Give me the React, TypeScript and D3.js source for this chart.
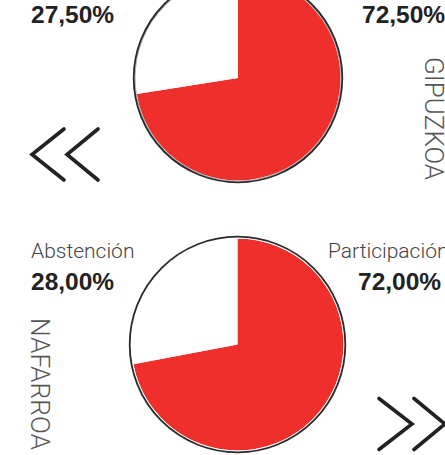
import React from "react";
import * as d3 from "d3";

const regions = ["GIPUZKOA", "NAFARROA"];
const participation = [72.5, 72.0];
const abstention = [27.5, 28.0];
const sliceLabels = ["Participación", "Abstención"];

const W = 445;
const H = 455;

const locale = d3.formatLocale({ decimal: ",", thousands: ".", grouping: [3], currency: ["", "€"] });
const fmt = (v: number) => locale.format(".2f")(v) + "%";

const layouts = [
  { cx: 238, cy: 78, r: 104, labelSide: "right" as const, chevron: "left" as const, showLabels: false },
  { cx: 237.5, cy: 344.5, r: 107.5, labelSide: "left" as const, chevron: "right" as const, showLabels: true },
];

const pieGen = d3
  .pie<number>()
  .sort(null)
  .value((d) => d)
  .startAngle(0)
  .endAngle(2 * Math.PI);

const sliceColors = ["#ee2f2c", "#ffffff"];

function Chevron({ x0, x1, cy, h }: { x0: number; x1: number; cy: number; h: number }) {
  const line = d3.line<[number, number]>();
  const pts: [number, number][] = [
    [x1, cy - h],
    [x0, cy],
    [x1, cy + h],
  ];
  return (
    <path
      d={line(pts) || ""}
      fill="none"
      stroke="#222"
      strokeWidth={3.6}
      strokeLinecap="round"
      strokeLinejoin="miter"
    />
  );
}

export default function App() {
  return (
    <svg
      width={W}
      height={H}
      viewBox={`0 0 ${W} ${H}`}
      style={{ position: "absolute", left: 0, top: 0, display: "block", background: "#fff" }}
    >
      <rect x={0} y={0} width={W} height={H} fill="#fff" />
      {regions.map((name, i) => {
        const L = layouts[i];
        const arcs = pieGen([participation[i], abstention[i]]);
        const arcGen = d3.arc<d3.PieArcDatum<number>>().innerRadius(0).outerRadius(L.r - 1.5);
        const pctY = L.cy - 55;
        const lblY = pctY - 32;
        return (
          <g key={name}>
            <g transform={`translate(${L.cx},${L.cy})`}>
              {arcs.map((a, j) => (
                <path key={j} d={arcGen(a) || ""} fill={sliceColors[j]} />
              ))}
              <circle r={L.r - 1} fill="none" stroke={i === 0 ? "#b5b5b5" : "#ffffff"} strokeWidth={1.2} />
              <circle r={L.r + 0.3} fill="none" stroke="#2a2a2a" strokeWidth={1.8} />
            </g>
            {L.showLabels && (
              <text x={31} y={lblY} fontFamily="Roboto" fontWeight={300} fontSize={21} fill="#444">
                {sliceLabels[1]}
              </text>
            )}
            <text x={31} y={pctY} fontFamily="Liberation Sans" fontWeight={700} fontSize={24.5} fill="#222">
              {fmt(abstention[i])}
            </text>
            {L.showLabels && (
              <text x={328} y={lblY} fontFamily="Roboto" fontWeight={300} fontSize={21} fill="#444">
                {sliceLabels[0]}
              </text>
            )}
            <text x={i === 0 ? 362 : 358} y={pctY} fontFamily="Liberation Sans" fontWeight={700} fontSize={24.5} fill="#222">
              {fmt(participation[i])}
            </text>
            {L.labelSide === "right" ? (
              <text
                transform={`translate(425,57) rotate(90)`}
                fontFamily="Roboto"
                fontWeight={300}
                fontSize={25.5}
                fill="#555"
                textLength={123}
                lengthAdjust="spacingAndGlyphs"
              >
                {name}
              </text>
            ) : (
              <text
                transform={`translate(31,318) rotate(90)`}
                fontFamily="Roboto"
                fontWeight={300}
                fontSize={26}
                fill="#555"
                textLength={132}
                lengthAdjust="spacingAndGlyphs"
              >
                {name}
              </text>
            )}
            {L.chevron === "left" ? (
              <g>
                <Chevron x0={32} x1={64} cy={154.5} h={25.5} />
                <Chevron x0={67} x1={98} cy={154.5} h={25.5} />
              </g>
            ) : (
              <g>
                <Chevron x0={412} x1={379} cy={424} h={25.5} />
                <Chevron x0={445} x1={414} cy={424} h={25.5} />
              </g>
            )}
          </g>
        );
      })}
    </svg>
  );
}
